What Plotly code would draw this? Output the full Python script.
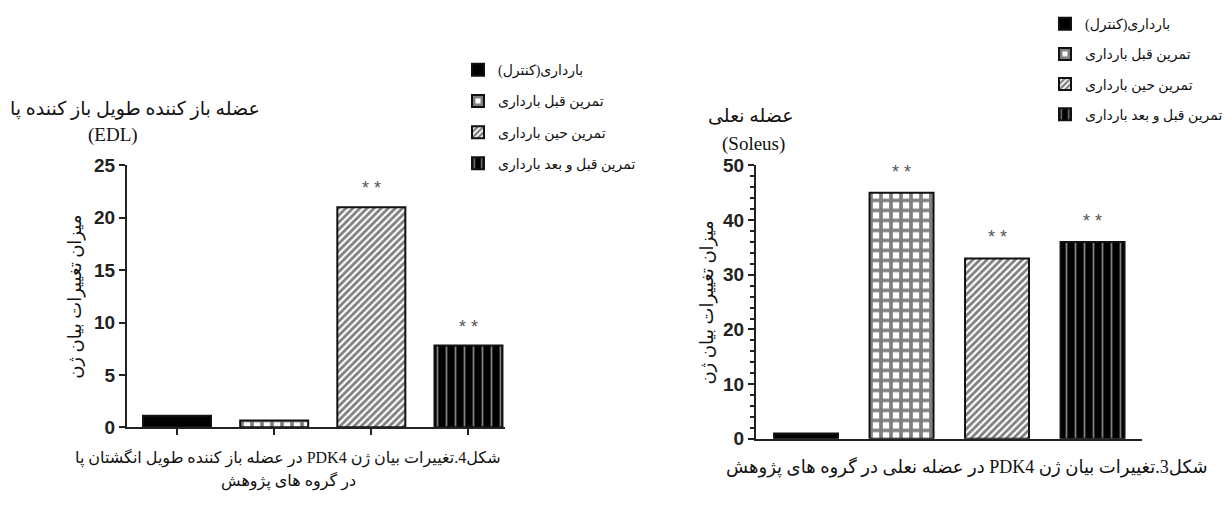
import plotly.graph_objects as go

groups = ["بارداری(کنترل)", "تمرین قبل بارداری", "تمرین حین بارداری", "تمرین قبل و بعد بارداری"]
edl_values = [1.1, 0.65, 21.0, 7.8]
soleus_values = [1.0, 45.0, 33.0, 36.0]
edl_sig = ["", "", "**", "**"]
soleus_sig = ["", "**", "**", "**"]
edl_ticks = [0, 5, 10, 15, 20, 25]
soleus_ticks = [0, 10, 20, 30, 40, 50]

W, H = 1231, 517
FA = "Liberation Serif, DejaVu Sans, sans-serif"
NUM = "Liberation Sans, Arial, sans-serif"
RLE, PDF = "\u202B", "\u202C"


def rtl(s):
    return RLE + s + PDF


patterns = [
    dict(shape="", fgcolor="black", bgcolor="black"),
    dict(shape="+", fgcolor="black", bgcolor="white", size=10, solidity=0.6),
    dict(shape="/", fgcolor="black", bgcolor="white", size=5, solidity=0.55),
    dict(shape="|", fgcolor="white", bgcolor="black", size=9, solidity=0.2),
]

fig = go.Figure()

for i, g in enumerate(groups):
    fig.add_trace(go.Bar(
        x=[g], y=[edl_values[i]], name=rtl(g), xaxis="x", yaxis="y",
        width=0.7, legend="legend", legendgroup="a" + str(i),
        marker=dict(color="black" if i == 0 else "white", pattern=patterns[i],
                    line=dict(color="#111", width=2)),
        hoverinfo="y",
    ))
for i, g in enumerate(groups):
    fig.add_trace(go.Bar(
        x=[g], y=[soleus_values[i]], name=rtl(g), xaxis="x2", yaxis="y2",
        width=0.67, legend="legend2", legendgroup="b" + str(i),
        marker=dict(color="black" if i == 0 else "white", pattern=patterns[i],
                    line=dict(color="#111", width=2)),
        hoverinfo="y",
    ))

ann = []
for i, g in enumerate(groups):
    if edl_sig[i]:
        ann.append(dict(x=g, y=edl_values[i], xref="x", yref="y", text=" ".join(edl_sig[i]),
                        showarrow=False, yanchor="bottom", yshift=7,
                        font=dict(family=NUM, size=18, color="#555")))
    if soleus_sig[i]:
        ann.append(dict(x=g, y=soleus_values[i], xref="x2", yref="y2", text=" ".join(soleus_sig[i]),
                        showarrow=False, yanchor="bottom", yshift=9,
                        font=dict(family=NUM, size=18, color="#555")))


def px(x, y):
    return x / W, 1 - y / H


texts = [
    (rtl("عضله باز کننده طویل باز کننده پا"), 135, 103, 19, 0),
    ("(EDL)", 113, 130, 19, 0),
    (rtl("عضله نعلی"), 751, 110, 19, 0),
    ("(Soleus)", 753, 140, 19, 0),
    (rtl("میزان تغییرات بیان ژن"), 76, 299, 18, -90),
    (rtl("میزان تغییرات بیان ژن"), 708, 305, 18, -90),
    (rtl("شکل4.تغییرات بیان ژن PDK4 در عضله باز کننده طویل انگشتان پا"), 288, 467, 16, 0),
    (rtl("در گروه های پژوهش"), 288, 491, 16, 0),
    (rtl("شکل3.تغییرات بیان ژن PDK4 در عضله نعلی در گروه های پژوهش"), 966, 476, 18, 0),
]
for t, x, y, s, a in texts:
    xx, yy = px(x, y)
    ann.append(dict(x=xx, y=yy, xref="paper", yref="paper", text=t, showarrow=False,
                    xanchor="center", yanchor="middle", textangle=a,
                    font=dict(family=FA, size=s, color="#111")))

axis_common = dict(showline=True, linecolor="#222", linewidth=2, showgrid=False, zeroline=False)

fig.update_layout(
    width=W, height=H, margin=dict(l=0, r=0, t=0, b=0),
    paper_bgcolor="white", plot_bgcolor="white",
    barmode="overlay", annotations=ann,
    xaxis=dict(domain=[127 / W, 505 / W], range=[-0.515, 3.376], type="category",
               categoryorder="array", categoryarray=groups,
               showticklabels=False, ticks="outside", ticklen=6, tickwidth=2, tickcolor="#222",
               anchor="y", **axis_common),
    yaxis=dict(domain=[(H - 435) / H, (H - 162) / H], range=[0, 25], tickvals=edl_ticks,
               ticks="outside", ticklen=6, tickwidth=2, tickcolor="#222",
               tickfont=dict(family=NUM, size=19, color="#222", weight="bold"), anchor="x",
               **axis_common),
    xaxis2=dict(domain=[756 / W, 1142 / W], range=[-0.524, 3.518], type="category",
                categoryorder="array", categoryarray=groups,
                showticklabels=False, ticks="", anchor="y2", **axis_common),
    yaxis2=dict(domain=[(H - 447) / H, (H - 162) / H], range=[0, 50], tickvals=soleus_ticks,
                ticks="outside", ticklen=6, tickwidth=2, tickcolor="#222",
                minor=dict(dtick=2, ticks="outside", ticklen=4, tickwidth=1.5, tickcolor="#222"),
                tickfont=dict(family=NUM, size=19, color="#222", weight="bold"), anchor="x2",
                **axis_common),
    legend=dict(x=458 / W, y=1 - 46 / H, xanchor="left", yanchor="top",
                font=dict(family=FA, size=14, color="#111"), tracegroupgap=10,
                bgcolor="rgba(0,0,0,0)"),
    legend2=dict(x=1228 / W, y=1 + 2 / H, xanchor="right", yanchor="top",
                 font=dict(family=FA, size=14, color="#111"), tracegroupgap=9,
                 bgcolor="rgba(0,0,0,0)"),
)

fig.write_html("out.html", config={"displayModeBar": False},
               post_script="document.body.style.margin='0';")
